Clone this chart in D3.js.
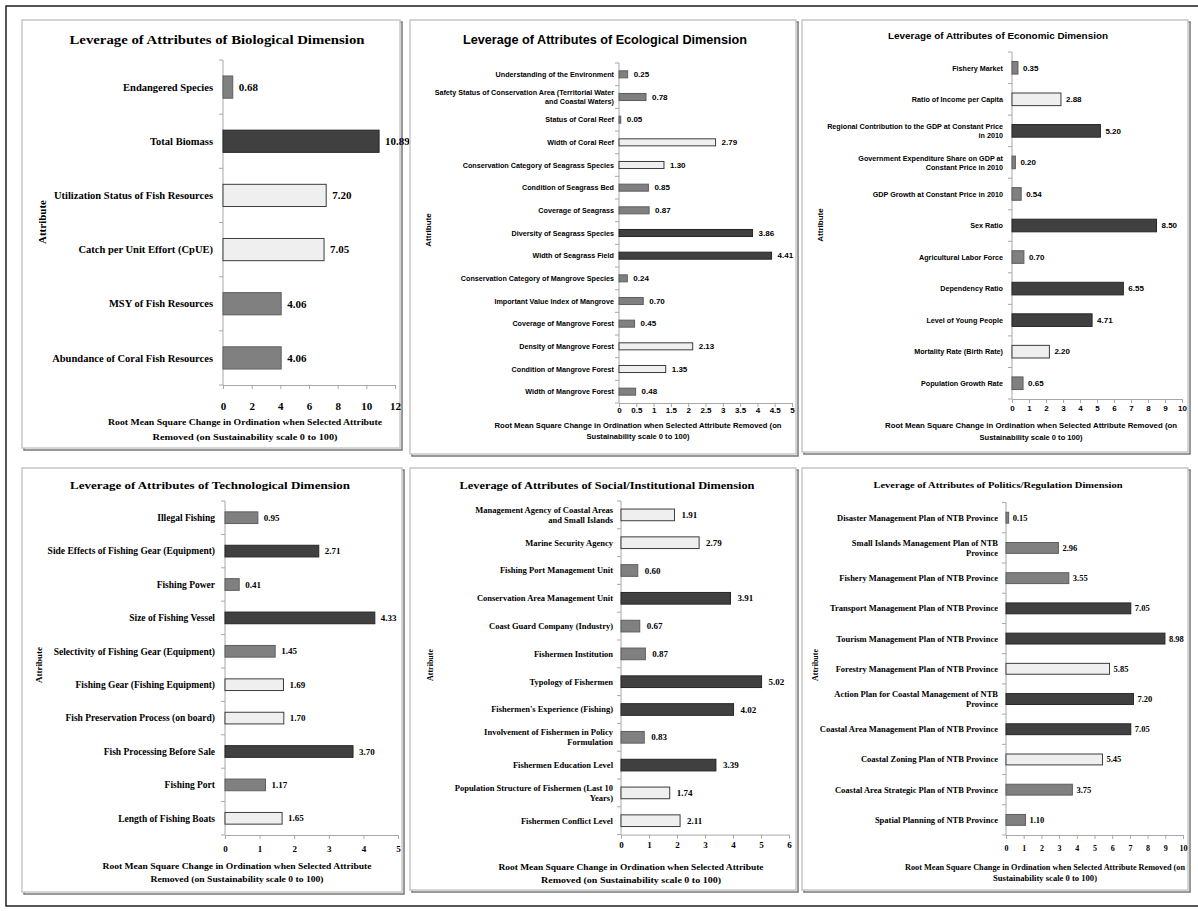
<!DOCTYPE html>
<html>
<head>
<meta charset="utf-8">
<script src="https://cdn.jsdelivr.net/npm/d3@7"></script>
<style>
  body { margin: 0; background: #fff; }
  svg { display: block; }
</style>
</head>
<body>
<svg id="fig" width="1198" height="911"></svg>
<script>
// ---------- Data: leverage (RMS change) per attribute, six dimensions ----------
// Tier: 3 = high leverage (dark), 2 = medium (light), 1 = low (grey)

const bioAttributes = [
  "Endangered Species",
  "Total Biomass",
  "Utilization Status of Fish Resources",
  "Catch per Unit Effort (CpUE)",
  "MSY of Fish Resources",
  "Abundance of Coral Fish Resources"
];
const bioValues = [0.68, 10.89, 7.20, 7.05, 4.06, 4.06];
const bioTiers  = [1, 3, 2, 2, 1, 1];
const bioTicks  = [0, 2, 4, 6, 8, 10, 12];

const ecoAttributes = [
  "Understanding of the Environment",
  "Safety Status of Conservation Area (Territorial Water\nand Coastal Waters)",
  "Status of Coral Reef",
  "Width of Coral Reef",
  "Conservation Category of Seagrass Species",
  "Condition of Seagrass Bed",
  "Coverage of Seagrass",
  "Diversity of Seagrass Species",
  "Width of Seagrass Field",
  "Conservation Category of Mangrove Species",
  "Important Value Index of Mangrove",
  "Coverage of Mangrove Forest",
  "Density of Mangrove Forest",
  "Condition of Mangrove Forest",
  "Width of Mangrove Forest"
];
const ecoValues = [0.25, 0.78, 0.05, 2.79, 1.30, 0.85, 0.87, 3.86, 4.41, 0.24, 0.70, 0.45, 2.13, 1.35, 0.48];
const ecoTiers  = [1, 1, 1, 2, 2, 1, 1, 3, 3, 1, 1, 1, 2, 2, 1];
const ecoTicks  = [0, 0.5, 1, 1.5, 2, 2.5, 3, 3.5, 4, 4.5, 5];

const econAttributes = [
  "Fishery Market",
  "Ratio of Income per Capita",
  "Regional Contribution to the GDP at Constant Price\nin 2010",
  "Government Expenditure Share on GDP at\nConstant Price in 2010",
  "GDP Growth at Constant Price in 2010",
  "Sex Ratio",
  "Agricultural Labor Force",
  "Dependency Ratio",
  "Level of Young People",
  "Mortality Rate (Birth Rate)",
  "Population Growth Rate"
];
const econValues = [0.35, 2.88, 5.20, 0.20, 0.54, 8.50, 0.70, 6.55, 4.71, 2.20, 0.65];
const econTiers  = [1, 2, 3, 1, 1, 3, 1, 3, 3, 2, 1];
const econTicks  = [0, 1, 2, 3, 4, 5, 6, 7, 8, 9, 10];

const techAttributes = [
  "Illegal Fishing",
  "Side Effects of Fishing  Gear (Equipment)",
  "Fishing Power",
  "Size of Fishing Vessel",
  "Selectivity of Fishing Gear (Equipment)",
  "Fishing Gear (Fishing Equipment)",
  "Fish Preservation Process (on board)",
  "Fish Processing Before Sale",
  "Fishing Port",
  "Length of Fishing Boats"
];
const techValues = [0.95, 2.71, 0.41, 4.33, 1.45, 1.69, 1.70, 3.70, 1.17, 1.65];
const techTiers  = [1, 3, 1, 3, 1, 2, 2, 3, 1, 2];
const techTicks  = [0, 1, 2, 3, 4, 5];

const socAttributes = [
  "Management Agency of Coastal Areas\nand Small Islands",
  "Marine Security Agency",
  "Fishing Port Management Unit",
  "Conservation Area Management Unit",
  "Coast Guard Company (Industry)",
  "Fishermen Institution",
  "Typology of Fishermen",
  "Fishermen's Experience (Fishing)",
  "Involvement of Fishermen in Policy\nFormulation",
  "Fishermen Education Level",
  "Population Structure of Fishermen (Last 10\nYears)",
  "Fishermen Conflict Level"
];
const socValues = [1.91, 2.79, 0.60, 3.91, 0.67, 0.87, 5.02, 4.02, 0.83, 3.39, 1.74, 2.11];
const socTiers  = [2, 2, 1, 3, 1, 1, 3, 3, 1, 3, 2, 2];
const socTicks  = [0, 1, 2, 3, 4, 5, 6];

const polAttributes = [
  "Disaster Management Plan of NTB Province",
  "Small Islands Management Plan of NTB\nProvince",
  "Fishery Management Plan of NTB Province",
  "Transport Management Plan of NTB Province",
  "Tourism Management Plan of NTB Province",
  "Forestry Management Plan of NTB Province",
  "Action Plan for Coastal Management of NTB\nProvince",
  "Coastal Area Management Plan of NTB Province",
  "Coastal Zoning Plan of NTB Province",
  "Coastal Area Strategic Plan of NTB Province",
  "Spatial Planning of NTB Province"
];
const polValues = [0.15, 2.96, 3.55, 7.05, 8.98, 5.85, 7.20, 7.05, 5.45, 3.75, 1.10];
const polTiers  = [1, 1, 1, 3, 3, 2, 3, 3, 2, 1, 1];
const polTicks  = [0, 1, 2, 3, 4, 5, 6, 7, 8, 9, 10];

const panelTitles = [
  "Leverage of Attributes  of Biological Dimension",
  "Leverage of Attributes of Ecological Dimension",
  "Leverage of Attributes of Economic Dimension",
  "Leverage of Attributes  of Technological Dimension",
  "Leverage of Attributes of Social/Institutional Dimension",
  "Leverage of Attributes of Politics/Regulation Dimension"
];
const axisTitleShort = ["Root Mean Square Change in Ordination when Selected Attribute",
                        "Removed (on Sustainability scale 0 to 100)"];
const axisTitleLong  = ["Root Mean Square Change in Ordination when Selected Attribute Removed (on",
                        "Sustainability scale 0 to 100)"];
const yAxisTitle = "Attribute";

// ---------- Styles ----------
const SERIF  = "'Liberation Serif', 'Times New Roman', serif";
const NARROW = "'Liberation Sans Narrow', 'Arial Narrow', 'Liberation Sans', Arial, sans-serif";
const tierFill   = { 1: "#808080", 2: "#efefef", 3: "#404040" };
const tierStroke = { 1: "#5e5e5e", 2: "#3c3c3c", 3: "#262626" };
const AXIS = "#a8a8a8";

// ---------- Panel layout ----------
const panels = [
  { attrs: bioAttributes, values: bioValues, tiers: bioTiers, ticks: bioTicks, title: panelTitles[0],
    box: [22, 20, 378, 428], plot: [223, 395, 60, 385], barRatio: 0.41,
    font: SERIF, labelSize: 10.5, labelStretch: 1, valueSize: 11, tickSize: 11, tickOffset: 21, labelX: 213, valueGap: 6,
    titlePos: [217, 40], titleSize: 12.5, titleWidth: 295,
    axisTitle: axisTitleShort, axisTitlePos: [245, 422], axisGap: 15, axisTitleSize: 9, axisWidths: [274, 185],
    yTitlePos: [42, 222], yTitleSize: 11 },
  { attrs: ecoAttributes, values: ecoValues, tiers: ecoTiers, ticks: ecoTicks, title: panelTitles[1],
    box: [410, 20, 386, 434], plot: [619, 792, 63, 403], barRatio: 0.31,
    font: NARROW, labelSize: 8, labelStretch: 0.9, valueSize: 8, tickSize: 8, tickOffset: 7, labelX: 614, valueGap: 6,
    titlePos: [605, 40], titleSize: 12, titleWidth: 284,
    axisTitle: axisTitleLong, axisTitlePos: [638, 425], axisGap: 11, axisTitleSize: 8, axisWidths: [287, 103],
    yTitlePos: [428, 230], yTitleSize: 8 },
  { attrs: econAttributes, values: econValues, tiers: econTiers, ticks: econTicks, title: panelTitles[2],
    box: [802, 20, 386, 432], plot: [1012, 1182, 52, 399], barRatio: 0.40,
    font: NARROW, labelSize: 8, labelStretch: 0.9, valueSize: 8, tickSize: 8, tickOffset: 9.5, labelX: 1003, valueGap: 5,
    titlePos: [998, 36], titleSize: 9.5, titleWidth: 220,
    axisTitle: axisTitleLong, axisTitlePos: [1031, 425], axisGap: 12.5, axisTitleSize: 8, axisWidths: [292, 103],
    yTitlePos: [820, 225], yTitleSize: 8 },
  { attrs: techAttributes, values: techValues, tiers: techTiers, ticks: techTicks, title: panelTitles[3],
    box: [22, 468, 380, 424], plot: [225, 398, 501, 835], barRatio: 0.35,
    font: SERIF, labelSize: 9.5, labelStretch: 1, valueSize: 9, tickSize: 9, tickOffset: 13.5, labelX: 215, valueGap: 6,
    titlePos: [210, 485], titleSize: 11, titleWidth: 280,
    axisTitle: axisTitleShort, axisTitlePos: [237, 866], axisGap: 12.5, axisTitleSize: 9, axisWidths: [269, 173],
    yTitlePos: [39, 665], yTitleSize: 9 },
  { attrs: socAttributes, values: socValues, tiers: socTiers, ticks: socTicks, title: panelTitles[4],
    box: [410, 468, 386, 422], plot: [621, 789, 501, 834.6], barRatio: 0.42,
    font: SERIF, labelSize: 8.5, labelStretch: 1, valueSize: 9, tickSize: 9, tickOffset: 10.5, labelX: 613, valueGap: 7,
    titlePos: [607, 485], titleSize: 10.5, titleWidth: 295,
    axisTitle: axisTitleShort, axisTitlePos: [631, 867], axisGap: 12.5, axisTitleSize: 9, axisWidths: [265, 180],
    yTitlePos: [430, 665], yTitleSize: 8 },
  { attrs: polAttributes, values: polValues, tiers: polTiers, ticks: polTicks, title: panelTitles[5],
    box: [802, 468, 386, 422], plot: [1006, 1183, 502.6, 835], barRatio: 0.36,
    font: SERIF, labelSize: 8.5, labelStretch: 1, valueSize: 8.5, tickSize: 8, tickOffset: 13.5, labelX: 998, valueGap: 4,
    titlePos: [998, 485], titleSize: 9, titleWidth: 249,
    axisTitle: axisTitleLong, axisTitlePos: [1045, 867], axisGap: 11.5, axisTitleSize: 8, axisWidths: [280, 104],
    yTitlePos: [815, 665], yTitleSize: 8 }
];

const svg = d3.select("#fig");

// outer frame of the figure
svg.append("rect")
  .attr("x", 6).attr("y", 6).attr("width", 1200).attr("height", 900)
  .attr("fill", "none").attr("stroke", "#1e1e1e").attr("stroke-width", 1.5);

function drawPanel(p) {
  const g = svg.append("g");
  const [bx, by, bw, bh] = p.box;

  // chart frame with a soft shadow
  g.append("rect").attr("x", bx + 2).attr("y", by + 2).attr("width", bw).attr("height", bh)
    .attr("fill", "none").attr("stroke", "#777").attr("stroke-width", 1.5);
  g.append("rect").attr("x", bx).attr("y", by).attr("width", bw).attr("height", bh)
    .attr("fill", "#fff").attr("stroke", "#c8c8c8").attr("stroke-width", 1.5);

  const [x0, x1, y0, y1] = p.plot;
  const x = d3.scaleLinear().domain([0, d3.max(p.ticks)]).range([x0, x1]);
  const gap = 1 - p.barRatio;
  const y = d3.scaleBand().domain(p.attrs).range([y0, y1]).paddingInner(gap).paddingOuter(gap / 2);
  const yEdge = d3.scaleBand().domain(p.attrs).range([y0, y1]);

  // value axis
  const xAxis = d3.axisBottom(x).tickValues(p.ticks).tickSize(4).tickSizeOuter(0)
    .tickFormat(d3.format("~g"));
  const ax = g.append("g").attr("transform", `translate(0,${y1})`).call(xAxis);
  ax.attr("color", AXIS);
  ax.selectAll("text")
    .attr("fill", "#000").attr("y", p.tickOffset).attr("dy", "0.35em")
    .attr("font-family", p.font).attr("font-weight", "bold").attr("font-size", p.tickSize);

  // category axis with ticks at band edges
  g.append("line").attr("x1", x(0)).attr("x2", x(0)).attr("y1", y0).attr("y2", y1)
    .attr("stroke", AXIS);
  const edges = p.attrs.map(a => yEdge(a)).concat([y1]);
  g.selectAll("line.edge").data(edges).join("line").attr("class", "edge")
    .attr("x1", x(0) - 4).attr("x2", x(0)).attr("y1", d => d).attr("y2", d => d)
    .attr("stroke", AXIS);

  const rows = p.attrs.map((a, i) => ({ a, v: p.values[i], t: p.tiers[i] }));

  // bars
  g.selectAll("rect.bar").data(rows).join("rect").attr("class", "bar")
    .attr("x", x(0)).attr("y", d => y(d.a))
    .attr("width", d => x(d.v) - x(0)).attr("height", y.bandwidth())
    .attr("fill", d => tierFill[d.t]).attr("stroke", d => tierStroke[d.t]).attr("stroke-width", 1);

  // category labels (may wrap onto two lines, condensed where the panel uses a narrow face)
  const lh = p.labelSize * 1.15;
  const lab = g.selectAll("text.cat").data(rows).join("text").attr("class", "cat")
    .attr("transform", `translate(${p.labelX},0) scale(${p.labelStretch},1)`)
    .attr("text-anchor", "end").attr("font-family", p.font).attr("font-weight", "bold")
    .attr("font-size", p.labelSize).attr("fill", "#000");
  lab.each(function (d) {
    const lines = d.a.split("\n");
    const cy = y(d.a) + y.bandwidth() / 2;
    const t = d3.select(this);
    lines.forEach((ln, k) => {
      t.append("tspan").attr("x", 0)
        .attr("y", cy + (k - (lines.length - 1) / 2) * lh)
        .attr("dy", "0.35em").text(ln);
    });
  });

  // value labels
  g.selectAll("text.val").data(rows).join("text").attr("class", "val")
    .attr("x", d => x(d.v) + p.valueGap).attr("y", d => y(d.a) + y.bandwidth() / 2)
    .attr("dy", "0.35em").attr("font-family", p.font).attr("font-weight", "bold")
    .attr("font-size", p.valueSize).attr("fill", "#000")
    .text(d => d3.format(".2f")(d.v));

  // chart title
  g.append("text").attr("x", p.titlePos[0]).attr("y", p.titlePos[1]).attr("dy", "0.35em")
    .attr("text-anchor", "middle").attr("font-family", p.font).attr("font-weight", "bold")
    .attr("font-size", p.titleSize).attr("textLength", p.titleWidth)
    .attr("lengthAdjust", "spacingAndGlyphs").text(p.title);

  // value-axis title
  p.axisTitle.forEach((ln, k) => {
    g.append("text").attr("x", p.axisTitlePos[0]).attr("y", p.axisTitlePos[1] + k * p.axisGap)
      .attr("dy", "0.35em").attr("text-anchor", "middle").attr("font-family", p.font)
      .attr("font-weight", "bold").attr("font-size", p.axisTitleSize)
      .attr("textLength", p.axisWidths[k]).attr("lengthAdjust", "spacingAndGlyphs").text(ln);
  });

  // category-axis title
  g.append("text")
    .attr("transform", `translate(${p.yTitlePos[0]},${p.yTitlePos[1]}) rotate(-90)`)
    .attr("dy", "0.35em").attr("text-anchor", "middle").attr("font-family", p.font)
    .attr("font-weight", "bold").attr("font-size", p.yTitleSize).text(yAxisTitle);
}

panels.forEach(drawPanel);
</script>
</body>
</html>
